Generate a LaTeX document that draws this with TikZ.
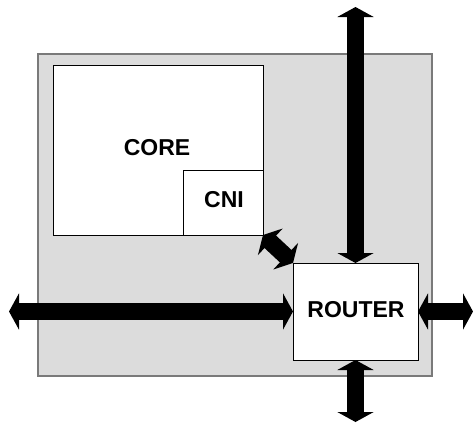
\documentclass[tikz,border=0pt]{standalone}
\usepackage{fontspec}
\setmainfont{Liberation Sans}
\usetikzlibrary{arrows.meta}
\definecolor{panelgray}{HTML}{DCDCDC}
\definecolor{paneledge}{HTML}{7A7A7A}
\tikzset{
  box/.style={draw=black, line width=1pt, fill=white, inner sep=0pt, outer sep=0pt},
  lbl/.style={font=\fontsize{23}{27}\selectfont\bfseries},
  bus/.style={line width=17pt, draw=black, {Triangle[length=10pt,width=36pt]}-{Triangle[length=10pt,width=36pt]}}
}
\begin{document}
\begin{tikzpicture}[x=1pt,y=-1pt]
\useasboundingbox (0,0) rectangle (473,423);
\fill[panelgray] (38,54) rectangle (432,376);
\draw[paneledge, line width=1.6pt] (38,54) rectangle (432,376);
\node[box, minimum width=210pt, minimum height=170pt] (core) at (158,150) {};
\node[box, minimum width=80pt, minimum height=65pt] (cni) at (223,202.5) {};
\node[box, minimum width=125pt, minimum height=97pt] (router) at (355.5,311.5) {};
\node[lbl] (corelbl) at (157,148) {CORE};
\node[lbl] at (224,200) {CNI};
\node[lbl] at (356,310) {ROUTER};
\coordinate (topend) at (355.5,7);
\coordinate (botend) at (355.5,422);
\coordinate (leftend) at (9,311.5);
\coordinate (rightend) at (473,311.5);
\draw[bus] (topend) -- (router.north);
\draw[bus] (router.south) -- (botend);
\draw[bus] (leftend) -- (router.west);
\draw[bus] (router.east) -- (rightend);
\draw[bus] (cni.south east) -- (router.north west);
\end{tikzpicture}
\end{document}
